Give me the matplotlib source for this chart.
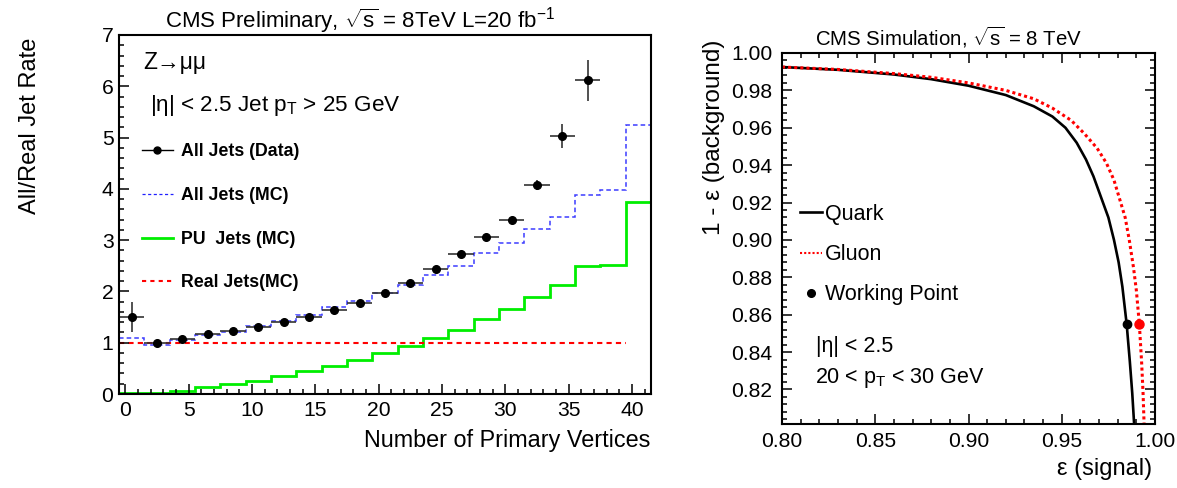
import numpy as np
import matplotlib
matplotlib.use('Agg')
import matplotlib.pyplot as plt
from matplotlib.lines import Line2D
from matplotlib.ticker import MultipleLocator, FixedLocator, FormatStrFormatter

plt.rcParams['font.family'] = ['Liberation Sans', 'DejaVu Sans']
plt.rcParams['mathtext.fontset'] = 'custom'
plt.rcParams['mathtext.rm'] = 'Liberation Sans'
plt.rcParams['mathtext.it'] = 'Liberation Sans:italic'
plt.rcParams['mathtext.bf'] = 'Liberation Sans:bold'

# ---- left: jet rate vs number of primary vertices ----
nvtx_edges = np.arange(-0.5, 42, 2)
nvtx_data = nvtx_edges[:19] + 1
rate_data = [1.50, 1.00, 1.08, 1.17, 1.23, 1.31, 1.40, 1.50, 1.64, 1.78,
             1.97, 2.16, 2.43, 2.73, 3.06, 3.40, 4.07, 5.03, 6.12]
rate_err = [0.29, 0.02, 0.02, 0.02, 0.02, 0.02, 0.02, 0.02, 0.02, 0.02,
            0.03, 0.03, 0.03, 0.04, 0.05, 0.06, 0.10, 0.24, 0.40]
all_mc = [1.095, 0.96, 1.05, 1.15, 1.21, 1.33, 1.43, 1.55, 1.69, 1.82, 1.97,
          2.12, 2.32, 2.50, 2.74, 2.95, 3.21, 3.46, 3.88, 3.97, 5.24]
pu_mc = [0.02, 0.02, 0.065, 0.13, 0.20, 0.26, 0.35, 0.44, 0.55, 0.67, 0.80,
         0.93, 1.10, 1.25, 1.46, 1.65, 1.89, 2.12, 2.50, 2.52, 3.75]
real_mc = [1.0] * 20

# ---- right: quark/gluon background rejection vs signal efficiency ----
quark_sig = [0.80, 0.83, 0.86, 0.88, 0.90, 0.92, 0.935, 0.945, 0.952, 0.958, 0.963,
             0.967, 0.971, 0.975, 0.978, 0.9805, 0.9825, 0.9848, 0.9865, 0.9878, 0.9889]
quark_bkg = [0.9925, 0.9910, 0.9885, 0.9860, 0.9825, 0.9775, 0.9715, 0.9660, 0.9600, 0.9520, 0.9430,
             0.9340, 0.9230, 0.9120, 0.9000, 0.8880, 0.8750, 0.8550, 0.8350, 0.8180, 0.8000]
gluon_sig = [0.80, 0.83, 0.86, 0.88, 0.90, 0.92, 0.935, 0.945, 0.955, 0.962, 0.969,
             0.974, 0.978, 0.981, 0.984, 0.9862, 0.9885, 0.9900, 0.9916, 0.9928, 0.9936, 0.9942]
gluon_bkg = [0.9925, 0.9912, 0.9890, 0.9870, 0.9840, 0.9800, 0.9755, 0.9705, 0.9640, 0.9570, 0.9490,
             0.9410, 0.9320, 0.9220, 0.9120, 0.9000, 0.8850, 0.8730, 0.8550, 0.8350, 0.8180, 0.8000]
wp_sig = [0.9848, 0.9916]
wp_bkg = [0.855, 0.855]

W, H = 1177, 488
fig = plt.figure(figsize=(W / 100, H / 100), dpi=100)


def box(l, t, r, b):
    return [l / W, 1 - b / H, (r - l) / W, (b - t) / H]


def style(ax, both):
    for s in ax.spines.values():
        s.set_linewidth(1.5)
    ax.tick_params(which='both', direction='in', top=both, right=both,
                   labelsize=15.2, width=1.1)
    ax.tick_params(which='major', length=7)
    ax.tick_params(which='minor', length=3.5)


# left panel
ax1 = fig.add_axes(box(119, 35, 651, 394))
ax1.stairs(all_mc, nvtx_edges, baseline=None, color='#3c3cff', lw=1.1,
           linestyle=(0, (3, 2)))
ax1.stairs(pu_mc, nvtx_edges, baseline=None, color='#00ee00', lw=2.0)
ax1.stairs(real_mc, nvtx_edges[:21], baseline=None, color='red', lw=1.5,
           linestyle=(0, (2.5, 2)))
ax1.errorbar(nvtx_data, rate_data, xerr=1, yerr=rate_err, fmt='o', color='black',
             ms=5.5, ecolor='#333333', elinewidth=1.2, capsize=0)
ax1.set_xlim(-0.5, 41.5)
ax1.set_ylim(0, 7)
ax1.xaxis.set_major_locator(MultipleLocator(5))
ax1.xaxis.set_minor_locator(MultipleLocator(1))
ax1.yaxis.set_major_locator(MultipleLocator(1))
ax1.yaxis.set_minor_locator(MultipleLocator(0.2))
style(ax1, False)
ax1.tick_params(axis='x', pad=5)
ax1.tick_params(axis='y', pad=4)

h_data = Line2D([], [], color='black', marker='o', ms=5, lw=1)
h_mc = Line2D([], [], color='#2020ff', lw=0.9, linestyle=(0, (2.5, 2)))
h_pu = Line2D([], [], color='#00ee00', lw=2)
h_real = Line2D([], [], color='red', lw=1.5, linestyle=(0, (2, 2)))
ax1.legend([h_data, h_mc, h_pu, h_real],
           ['All Jets (Data)', 'All Jets (MC)', 'PU  Jets (MC)', 'Real Jets(MC)'],
           loc='upper left', bbox_to_anchor=(0.043, 0.698), frameon=False,
           prop={'weight': 'bold', 'size': 12.8}, handlelength=1.75,
           handletextpad=0.45, labelspacing=1.5, borderpad=0, borderaxespad=0)
ax1.text(0.045, 0.905, 'Z→μμ', transform=ax1.transAxes, fontsize=16.4)
ax1.text(0.058, 0.789, '|η| < 2.5 Jet p$_\\mathregular{T}$ > 25 GeV',
         transform=ax1.transAxes, fontsize=16.2)

fig.text(360 / W, 1 - 28 / H,
         'CMS Preliminary, $\\sqrt{\\mathregular{s}}$ = 8TeV L=20 fb$^{\\mathregular{-1}}$',
         ha='center', va='baseline', fontsize=16)
fig.text(30 / W, 1 - 38 / H, 'All/Real Jet Rate', rotation=90, ha='center', va='top',
         fontsize=17)
fig.text(650 / W, 1 - 447 / H, 'Number of Primary Vertices', ha='right', va='baseline',
         fontsize=16.8)

# right panel
ax2 = fig.add_axes(box(782, 53, 1155, 424))
ax2.plot(quark_sig, quark_bkg, color='black', lw=1.9)
ax2.plot(gluon_sig, gluon_bkg, color='red', lw=2.2, linestyle=(0, (1, 1)))
ax2.plot(wp_sig[:1], wp_bkg[:1], 'o', color='black', ms=6)
ax2.plot(wp_sig[1:], wp_bkg[1:], 'o', color='red', ms=6.5)
ax2.set_xlim(0.8, 1.0)
ax2.set_ylim(0.8015, 1.0)
ax2.xaxis.set_major_locator(MultipleLocator(0.05))
ax2.xaxis.set_minor_locator(MultipleLocator(0.01))
ax2.yaxis.set_major_locator(FixedLocator(np.arange(0.82, 1.001, 0.02)))
ax2.yaxis.set_minor_locator(MultipleLocator(0.004))
ax2.xaxis.set_major_formatter(FormatStrFormatter('%.2f'))
ax2.yaxis.set_major_formatter(FormatStrFormatter('%.2f'))
style(ax2, True)
ax2.tick_params(axis='x', pad=6)
ax2.tick_params(axis='y', pad=7)

h_q = Line2D([], [], color='black', lw=1.9)
h_g = Line2D([], [], color='red', lw=1.5, linestyle=(0, (1, 1)))
h_wp = Line2D([], [], color='black', marker='o', ms=5.5, lw=0)
ax2.legend([h_q, h_g, h_wp], ['Quark', 'Gluon', 'Working Point'],
           loc='upper left', bbox_to_anchor=(0.048, 0.593), frameon=False,
           fontsize=15.5, handlelength=1.02, handletextpad=0.15, labelspacing=0.89,
           borderpad=0, borderaxespad=0)
ax2.text(0.09, 0.195, '|η| < 2.5', transform=ax2.transAxes, fontsize=15.5)
ax2.text(0.088, 0.11, '20 < p$_\\mathregular{T}$ < 30 GeV', transform=ax2.transAxes,
         fontsize=15.5)

fig.text(948 / W, 1 - 46 / H, 'CMS Simulation, $\\sqrt{\\mathregular{s}}$ = 8 TeV',
         ha='center', va='baseline', fontsize=14.7)
fig.text(714 / W, 1 - 40 / H, '1 - ε (background)', rotation=90, ha='center', va='top',
         fontsize=17.5)
fig.text(1152 / W, 1 - 475 / H, 'ε (signal)', ha='right', va='baseline', fontsize=17)

fig.savefig('out.png', dpi=100)
